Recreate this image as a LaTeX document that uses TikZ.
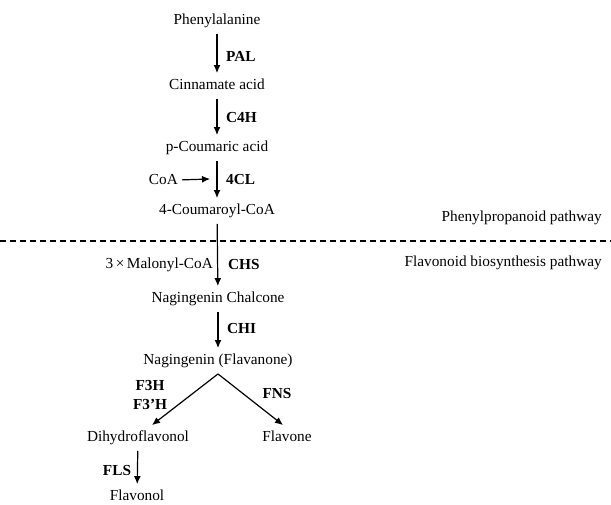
\documentclass[tikz,border=0pt]{standalone}
\usepackage{fontspec}
\setmainfont{Liberation Serif}
\usetikzlibrary{arrows.meta}
\begin{document}
\begin{tikzpicture}[x=1pt,y=-1pt,
  cmp/.style={inner xsep=2pt,inner ysep=6pt,text height=10.5pt,text depth=3pt,font=\fontsize{15.3}{18}\selectfont},
  enz/.style={inner sep=0pt,font=\fontsize{15.3}{18}\selectfont\bfseries},
  lbl/.style={inner sep=0pt,font=\fontsize{15.3}{18}\selectfont},
  rx/.style={line width=1.2pt,-{Latex[length=8pt,width=7pt]}}]
\useasboundingbox (0,0) rectangle (611,504);
\node[cmp] (phe) at (217,21) {Phenylalanine};
\node[cmp] (cin) at (217,86) {Cinnamate acid};
\node[cmp] (pco) at (217,148) {p-Coumaric acid};
\node[cmp] (cou) at (217,211) {4-Coumaroyl-CoA};
\node[cmp] (chl) at (218,299) {Nagingenin Chalcone};
\node[cmp] (fla) at (218,361) {Nagingenin (Flavanone)};
\node[cmp] (dih) at (138,438) {Dihydroflavonol};
\node[cmp] (flv) at (287,438) {Flavone};
\node[cmp] (fol) at (137,497) {Flavonol};
\node[lbl,anchor=east] (coa) at (178,180) {CoA};
\node[lbl,anchor=east] (mal) at (213,265) {3\,×\,Malonyl-CoA};
\node[enz,anchor=west] (pal) at (226,56) {PAL};
\node[enz,anchor=west] (c4h) at (226,118) {C4H};
\node[enz,anchor=west] (fcl) at (226,180) {4CL};
\node[enz,anchor=west] (chs) at (228,265) {CHS};
\node[enz,anchor=west] (chi) at (227,329) {CHI};
\node[enz] (f3h) at (150,386) {F3H};
\node[enz] (f3ph) at (150,404) {F3’H};
\node[enz] (fns) at (277,394) {FNS};
\node[enz] (fls) at (117,471) {FLS};
\node[lbl,anchor=east] (php) at (602,218) {Phenylpropanoid pathway};
\node[lbl,anchor=east] (flp) at (602,263) {Flavonoid biosynthesis pathway};
\coordinate (dl) at (0,241);
\coordinate (dr) at (611,241);
\coordinate (m4) at (210,179);
\draw[line width=1.3pt,dash pattern=on 6pt off 4pt] (dl) -- (dr);
\draw[rx] (phe) -- (cin);
\draw[rx] (cin) -- (pco);
\draw[rx] (pco) -- (cou);
\draw[rx] (cou) -- (chl);
\draw[rx] (chl) -- (fla);
\draw[rx,shorten <=4pt] (coa.east) -- (m4);
\draw[rx] (fla.south) -- ([xshift=14pt]dih.north);
\draw[rx] (fla.south) -- ([xshift=-4pt]flv.north);
\draw[rx] (dih) -- (fol);
\end{tikzpicture}
\end{document}
